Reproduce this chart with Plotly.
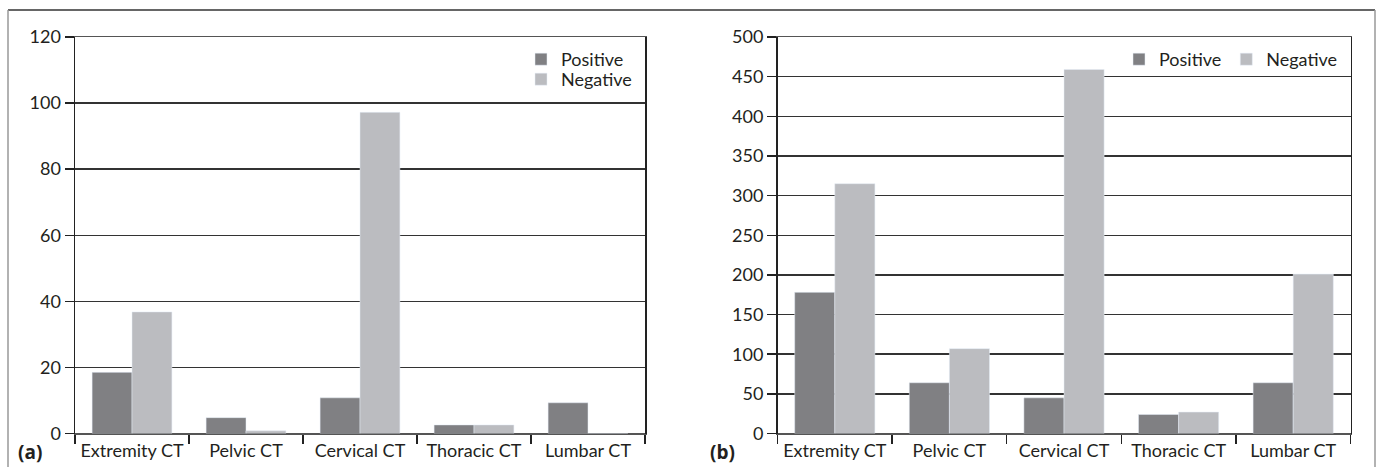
import plotly.graph_objects as go

categories = ["Extremity CT", "Pelvic CT", "Cervical CT", "Thoracic CT", "Lumbar CT"]
a_positive = [18.5, 4.8, 10.8, 2.6, 9.3]
a_negative = [36.8, 0.8, 97.2, 2.6, 0]
b_positive = [178, 64, 45, 24, 64]
b_negative = [315, 107, 459, 27, 201]
a_ticks = [0, 20, 40, 60, 80, 100, 120]
b_ticks = [0, 50, 100, 150, 200, 250, 300, 350, 400, 450, 500]

W, H = 1377, 467
FONT = "Lato, Liberation Sans, sans-serif"
BOLD_FONT = "Open Sans, Liberation Sans, sans-serif"
TXT = "#231f20"
POS_C = "#808083"
NEG_C = "#bbbcc0"

fig = go.Figure()
fig.add_trace(go.Bar(x=categories, y=a_positive, name="Positive", marker_color=POS_C,
                     xaxis="x", yaxis="y", legend="legend"))
fig.add_trace(go.Bar(x=categories, y=a_negative, name="Negative", marker_color=NEG_C,
                     xaxis="x", yaxis="y", legend="legend3"))
fig.add_trace(go.Bar(x=categories, y=b_positive, name="Positive", marker_color=POS_C,
                     xaxis="x2", yaxis="y2", legend="legend2"))
fig.add_trace(go.Bar(x=categories, y=b_negative, name="Negative", marker_color=NEG_C,
                     xaxis="x2", yaxis="y2", legend="legend2"))

ydom = [1 - 433.5 / H, 1 - 37 / H]

def xax(dom):
    return dict(domain=dom, type="category", showline=True, linecolor="#555555", linewidth=1.5,
                mirror=True, ticks="outside", tickson="boundaries", ticklen=9, tickwidth=1.5,
                tickcolor="#222222", showgrid=False, fixedrange=True, tickangle=0,
                automargin=False,
                tickfont=dict(family=FONT, size=18, color=TXT))

def yax(rng, ticks, anchor):
    return dict(domain=ydom, range=rng, tickvals=ticks, showline=True, linecolor="#222222",
                linewidth=1.5, mirror=True, ticks="outside", ticklen=9, tickwidth=1.5,
                tickcolor="#222222", showgrid=True, gridcolor="#333333", gridwidth=1.5,
                zeroline=True, zerolinecolor="#555555", zerolinewidth=1.5, anchor=anchor,
                automargin=False,
                tickfont=dict(family=FONT, size=18, color=TXT), fixedrange=True)

leg_common = dict(xanchor="left", yanchor="top", font=dict(family=FONT, size=18, color=TXT),
                  bgcolor="rgba(0,0,0,0)", itemclick=False, itemdoubleclick=False)

fig.update_layout(
    width=W, height=H, autosize=False,
    margin=dict(l=0, r=0, t=0, b=0),
    paper_bgcolor="white", plot_bgcolor="white",
    barmode="group", bargap=0.3, bargroupgap=0,
    xaxis=xax([75 / W, 645 / W]) | dict(anchor="y"),
    yaxis=yax([0, 120], a_ticks, "x"),
    xaxis2=xax([777.5 / W, 1350.5 / W]) | dict(anchor="y2"),
    yaxis2=yax([0, 500], b_ticks, "x2"),
    legend=dict(x=521 / W, y=1 - 41 / H, orientation="v", **leg_common),
    legend3=dict(x=521 / W, y=1 - 61 / H, orientation="v", **leg_common),
    legend2=dict(x=1119 / W, y=1 - 41 / H, orientation="h", **leg_common),
    showlegend=True,
    shapes=[
        dict(type="line", xref="paper", yref="paper", x0=8 / W, x1=1375 / W,
             y0=1 - 10 / H, y1=1 - 10 / H, line=dict(color="#333333", width=1.5)),
        dict(type="line", xref="paper", yref="paper", x0=8 / W, x1=8 / W,
             y0=-0.05, y1=1 - 10 / H, line=dict(color="#999999", width=1.5)),
        dict(type="line", xref="paper", yref="paper", x0=1375 / W, x1=1375 / W,
             y0=-0.05, y1=1 - 10 / H, line=dict(color="#999999", width=1.5)),
    ],
    annotations=[
        dict(text="<b>(a)</b>", xref="paper", yref="paper", x=30 / W, y=1 - 452 / H,
             showarrow=False, xanchor="center", yanchor="middle",
             font=dict(family=BOLD_FONT, size=19, color=TXT, weight="bold")),
        dict(text="<b>(b)</b>", xref="paper", yref="paper", x=723 / W, y=1 - 452 / H,
             showarrow=False, xanchor="center", yanchor="middle",
             font=dict(family=BOLD_FONT, size=19, color=TXT, weight="bold")),
    ],
)

fig.write_html("out.html", config={"displayModeBar": False, "staticPlot": True},
               post_script="document.body.style.margin='0';")
